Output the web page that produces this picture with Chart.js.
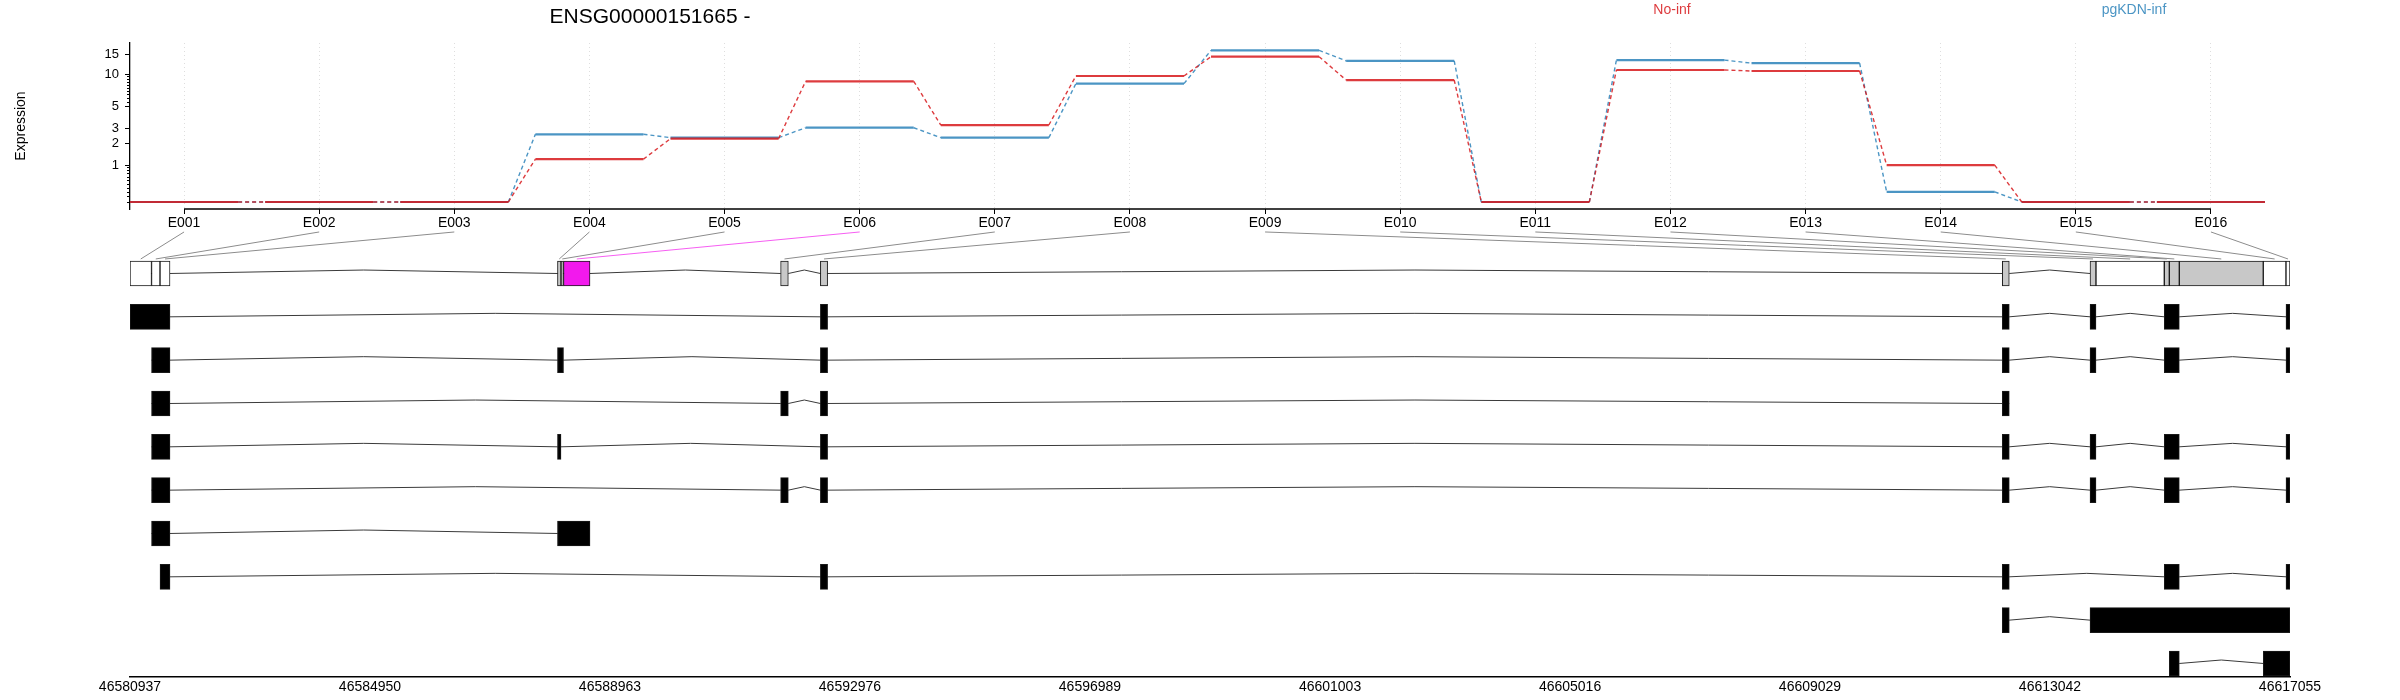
<!DOCTYPE html>
<html>
<head>
<meta charset="utf-8">
<title>ENSG00000151665 exon usage</title>
<script src="https://cdn.jsdelivr.net/npm/chart.js@4.4.1/dist/chart.umd.min.js"></script>
<style>
  html, body { margin: 0; padding: 0; background: #fff; }
  #wrap { position: relative; width: 2400px; height: 700px; font-family: "Liberation Sans", Arial, sans-serif; }
  #wrap canvas { position: absolute; left: 0; top: 0; }
  .lbl { position: absolute; white-space: nowrap; transform: translate(-50%, -50%); line-height: 1; }
  #title { left: 650px; top: 15px; font-size: 21px; color: #000; }
  #legNo { left: 1672px; top: 9px; font-size: 14px; }
  #legPg { left: 2134px; top: 9px; font-size: 14px; }
</style>
</head>
<body>
<div id="wrap">
  <canvas id="geneModel" width="2400" height="700"></canvas>
  <canvas id="expression" width="2400" height="240"></canvas>
  <div id="title" class="lbl"></div>
  <div id="legNo" class="lbl"></div>
  <div id="legPg" class="lbl"></div>
</div>
<script>
// ---- data ----
const geneId = 'ENSG00000151665';
const strand = '-';
const exonIds = ['E001', 'E002', 'E003', 'E004', 'E005', 'E006', 'E007', 'E008',
                 'E009', 'E010', 'E011', 'E012', 'E013', 'E014', 'E015', 'E016'];
const conditions = ['No-inf', 'pgKDN-inf'];
const noInf    = [0, 0, 0, 1.24, 2.29, 8.67, 3.25, 9.68, 14.35, 8.9, 0, 10.96, 10.73, 1.0, 0, 0];
const pgKdnInf = [0, 0, 0, 2.57, 2.35, 3.04, 2.35, 8.25, 16.3, 13.2, 0, 13.4, 12.6, 0.21, 0, 0];
const yTickValues = [1, 2, 3, 5, 10, 15];
const yMinorValues = [0, 0.1, 0.2, 0.3, 0.4, 0.5, 0.6, 0.7, 0.8, 0.9, 5.5, 6, 6.5, 7, 7.5, 8, 8.5, 9, 9.5];
const significantExons = ['E006'];

// exon bins (genomic)
const binStart = [46580937, 46581297, 46581439, 46588085, 46588144, 46588186, 46591816, 46592481,
                  46612244, 46613711, 46613811, 46614953, 46615037, 46615204, 46616608, 46616988];
const binEnd   = [46581297, 46581439, 46581606, 46588144, 46588186, 46588629, 46591945, 46592602,
                  46612361, 46613811, 46614953, 46615037, 46615204, 46616608, 46616988, 46617055];

// transcripts as ranges of exon bins (1-based, inclusive)
const transcripts = [
  [[1, 3], [8, 8], [9, 9], [10, 10], [12, 13], [16, 16]],
  [[2, 3], [4, 5], [8, 8], [9, 9], [10, 10], [12, 13], [16, 16]],
  [[2, 3], [7, 7], [8, 8], [9, 9]],
  [[2, 3], [4, 4], [8, 8], [9, 9], [10, 10], [12, 13], [16, 16]],
  [[2, 3], [7, 7], [8, 8], [9, 9], [10, 10], [12, 13], [16, 16]],
  [[2, 3], [4, 6]],
  [[3, 3], [8, 8], [9, 9], [12, 13], [16, 16]],
  [[9, 9], [10, 16]],
  [[13, 13], [15, 16]]
];

const coordTicks = [46580937, 46584950, 46588963, 46592976, 46596989,
                    46601003, 46605016, 46609029, 46613042, 46617055];

// ---- style ----
const RED = 'rgba(215, 25, 28, 0.85)';
const BLUE = 'rgba(43, 131, 186, 0.85)';
const MAGENTA = '#F219ED';
const BIN_GRAY = '#C8C8C8';

Chart.defaults.font.family = '"Liberation Sans", Arial, sans-serif';
Chart.defaults.color = '#000';

document.getElementById('title').textContent = geneId + ' ' + strand;
const legNo = document.getElementById('legNo');
legNo.textContent = conditions[0];
legNo.style.color = RED;
const legPg = document.getElementById('legPg');
legPg.textContent = conditions[1];
legPg.style.color = BLUE;

// ---- expression plot ----
const logp = v => Math.log10(v + 1);
const exonIndex = exonIds.map((_, i) => i + 1);
const HALF = 0.4;
const Y_MIN = -0.0571;
const Y_MAX = 1.298;

function stepPoints(values) {
  const pts = [];
  values.forEach((v, i) => {
    pts.push({ x: exonIndex[i] - HALF, y: logp(v) });
    pts.push({ x: exonIndex[i] + HALF, y: logp(v) });
  });
  return pts;
}

function seriesDataset(label, values, color, order) {
  return {
    label,
    data: stepPoints(values),
    borderColor: color,
    borderWidth: 2.2,
    pointRadius: 0,
    tension: 0,
    order,
    segment: {
      // odd segments join one exon to the next
      borderDash: ctx => (ctx.p0DataIndex % 2 ? [4, 3] : undefined),
      borderWidth: ctx => (ctx.p0DataIndex % 2 ? 1.4 : undefined)
    }
  };
}

const exprChart = new Chart(document.getElementById('expression'), {
  type: 'line',
  data: {
    datasets: [
      seriesDataset(conditions[0], noInf, RED, 0),
      seriesDataset(conditions[1], pgKdnInf, BLUE, 1),
      {
        label: 'axis',
        data: [{ x: exonIndex[0], y: Y_MIN }, { x: exonIndex[exonIndex.length - 1], y: Y_MIN }],
        borderColor: '#000',
        borderWidth: 1.3,
        pointRadius: 0,
        clip: false,
        order: 2
      }
    ]
  },
  options: {
    responsive: false,
    animation: false,
    devicePixelRatio: 1,
    layout: { padding: { top: 43, right: 135, bottom: 0, left: 0 } },
    plugins: { legend: { display: false }, tooltip: { enabled: false } },
    scales: {
      x: {
        type: 'linear',
        position: 'bottom',
        min: exonIndex[0] - HALF,
        max: exonIndex[exonIndex.length - 1] + HALF,
        afterBuildTicks: s => { s.ticks = exonIndex.map(v => ({ value: v })); },
        afterFit: s => { s.height = 31; },
        ticks: {
          autoSkip: false, maxRotation: 0, padding: 1,
          font: { size: 14 },
          callback: v => exonIds[v - 1]
        },
        grid: { color: 'rgba(0,0,0,0.13)', lineWidth: 1, tickColor: '#000', tickLength: 5, tickWidth: 1 },
        border: { display: false, dash: [1, 3] }
      },
      y: {
        type: 'linear',
        position: 'left',
        weight: 1,
        min: Y_MIN,
        max: Y_MAX,
        afterBuildTicks: s => { s.ticks = yTickValues.map(v => ({ value: logp(v) })); },
        afterFit: s => { s.width = 130; },
        ticks: { font: { size: 13 }, padding: 6, callback: (v, i) => String(yTickValues[i]) },
        grid: { drawOnChartArea: false, tickColor: '#000', tickLength: 5 },
        border: { display: true, color: '#000', width: 1.3 },
        title: { display: true, text: 'Expression', font: { size: 14 }, padding: { top: 13, bottom: 0 } }
      },
      yMinor: {
        type: 'linear',
        position: 'left',
        weight: 0,
        min: Y_MIN,
        max: Y_MAX,
        afterBuildTicks: s => { s.ticks = yMinorValues.map(v => ({ value: logp(v) })); },
        afterFit: s => { s.width = 0; },
        ticks: { display: false },
        grid: { drawOnChartArea: false, tickColor: '#000', tickLength: 3 },
        border: { display: false }
      }
    }
  }
});

// ---- gene model ----
const ROW_MIN = -1.119;
const ROW_MAX = 9.312;
const HAT = 0.08;
const CONN_TOP = -0.958;
const CONN_BOTTOM = -0.335;

function binFill(i) {
  if (significantExons.includes(exonIds[i])) return MAGENTA;
  return (noInf[i] === 0 && pgKdnInf[i] === 0) ? '#FFFFFF' : BIN_GRAY;
}

// merge contiguous bins into blocks for the collapsed model
const collapsed = [];
binStart.forEach((s, i) => {
  const last = collapsed[collapsed.length - 1];
  if (last && binEnd[last[1] - 1] === s) last[1] = i + 1;
  else collapsed.push([i + 1, i + 1]);
});

const rows = [collapsed].concat(transcripts);

const bars = [];
binStart.forEach((s, i) => bars.push({ x: [s, binEnd[i]], y: 0, fill: binFill(i) }));
transcripts.forEach((t, k) => {
  t.forEach(([a, b]) => bars.push({ x: [binStart[a - 1], binEnd[b - 1]], y: k + 1, fill: '#000' }));
});

function intronLine(blocks, row) {
  const pts = [];
  blocks.forEach(([a, b], j) => {
    const s = binStart[a - 1];
    const e = binEnd[b - 1];
    if (j > 0) {
      const prevEnd = pts[pts.length - 1].x;
      pts.push({ x: (prevEnd + s) / 2, y: row - HAT });
    }
    pts.push({ x: s, y: row });
    pts.push({ x: e, y: row });
  });
  return {
    type: 'line',
    data: pts,
    borderColor: '#3a3a3a',
    borderWidth: 1,
    pointRadius: 0,
    tension: 0,
    order: 1
  };
}

const binConnectors = {
  id: 'binConnectors',
  afterDatasetsDraw(chart) {
    const xe = exprChart.scales.x;
    const { x, y } = chart.scales;
    const ctx = chart.ctx;
    ctx.save();
    ctx.lineWidth = 1;
    exonIds.forEach((id, i) => {
      ctx.strokeStyle = significantExons.includes(id) ? 'rgba(242, 25, 237, 0.7)' : '#8c8c8c';
      ctx.beginPath();
      ctx.moveTo(xe.getPixelForValue(exonIndex[i]), y.getPixelForValue(CONN_TOP));
      ctx.lineTo(x.getPixelForValue((binStart[i] + binEnd[i]) / 2), y.getPixelForValue(CONN_BOTTOM));
      ctx.stroke();
    });
    ctx.restore();
  }
};

new Chart(document.getElementById('geneModel'), {
  type: 'line',
  data: {
    datasets: [
      {
        type: 'bar',
        indexAxis: 'y',
        data: bars,
        barThickness: 25,
        backgroundColor: c => (c.raw ? c.raw.fill : '#000'),
        borderColor: '#1a1a1a',
        borderWidth: 1,
        borderSkipped: false,
        order: 0
      }
    ].concat(rows.map((blocks, r) => intronLine(blocks, r)))
  },
  options: {
    responsive: false,
    animation: false,
    devicePixelRatio: 1,
    layout: { padding: { top: 225, right: 110, bottom: 0, left: 130 } },
    plugins: { legend: { display: false }, tooltip: { enabled: false } },
    scales: {
      x: {
        type: 'linear',
        position: 'bottom',
        min: coordTicks[0],
        max: coordTicks[coordTicks.length - 1],
        afterBuildTicks: s => { s.ticks = coordTicks.map(v => ({ value: v })); },
        afterFit: s => { s.height = 23; },
        ticks: { autoSkip: false, maxRotation: 0, padding: 2, font: { size: 14 }, callback: v => String(v) },
        grid: { display: false, drawTicks: false },
        border: { display: true, color: '#000', width: 1.5 }
      },
      y: {
        type: 'linear',
        display: false,
        reverse: true,
        offset: false,
        min: ROW_MIN,
        max: ROW_MAX
      }
    }
  },
  plugins: [binConnectors]
});
</script>
</body>
</html>
